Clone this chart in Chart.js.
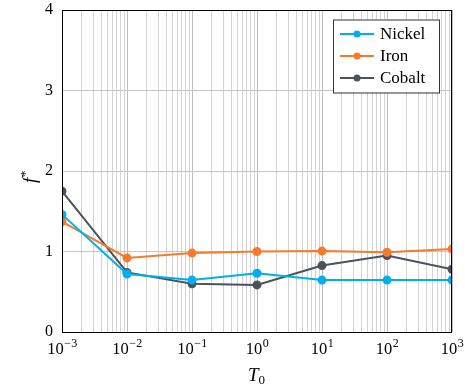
<!DOCTYPE html>
<html>
<head>
<meta charset="utf-8">
<script src="https://cdn.jsdelivr.net/npm/chart.js@4.4.1/dist/chart.umd.min.js"></script>
<style>
  html, body { margin: 0; padding: 0; background: #fff; }
  #wrap { width: 465px; height: 390px; }
</style>
</head>
<body>
<div id="wrap"><canvas id="fstarChart"></canvas></div>
<script>
// relaxation parameter T0 vs. f* for the three metals
var t0Values = [0.001, 0.01, 0.1, 1, 10, 100, 1000];
var nickelValues = [1.46, 0.72, 0.645, 0.73, 0.645, 0.645, 0.645];
var ironValues = [1.37, 0.92, 0.98, 1.0, 1.005, 0.99, 1.03];
var cobaltValues = [1.75, 0.74, 0.60, 0.585, 0.825, 0.95, 0.78];
var seriesNames = ['Nickel', 'Iron', 'Cobalt'];
var seriesColors = ['#00AEEF', '#F7792B', '#4B525C'];
var xExponents = [-3, -2, -1, 0, 1, 2, 3];
var yTicks = [0, 1, 2, 3, 4];

var SERIF = '"Liberation Serif", "DejaVu Serif", serif';

function toPoints(vals) {
  return vals.map(function (v, i) { return { x: t0Values[i], y: v }; });
}

function isDecade(v) {
  var l = Math.log10(v);
  return Math.abs(l - Math.round(l)) < 1e-9;
}

// frame, decade labels, axis titles and the boxed legend
var decorations = {
  id: 'decorations',
  afterDraw: function (chart) {
    var ctx = chart.ctx;
    var a = chart.chartArea;
    var xs = chart.scales.x;
    ctx.save();

    ctx.strokeStyle = '#000';
    ctx.lineWidth = 1;
    ctx.strokeRect(a.left + 0.5, a.top + 0.5, a.right - a.left - 1, a.bottom - a.top);

    ctx.fillStyle = '#000';
    ctx.textBaseline = 'alphabetic';
    xExponents.forEach(function (e) {
      var px = xs.getPixelForValue(Math.pow(10, e));
      var base = '10';
      var sup = e < 0 ? '\u2212' + (-e) : String(e);
      ctx.font = '16.5px ' + SERIF;
      var wb = ctx.measureText(base).width;
      ctx.font = '12px ' + SERIF;
      var ws = ctx.measureText(sup).width;
      var x0 = px - (wb + ws) / 2;
      ctx.font = '16.5px ' + SERIF;
      ctx.textAlign = 'left';
      ctx.fillText(base, x0, a.bottom + 22);
      ctx.font = '12px ' + SERIF;
      ctx.fillText(sup, x0 + wb + 0.5, a.bottom + 15);
    });

    // x title T0
    var cx = (a.left + a.right) / 2;
    ctx.font = 'italic 19px ' + SERIF;
    var wt = ctx.measureText('T').width;
    ctx.textAlign = 'left';
    ctx.fillText('T', cx - 9, a.bottom + 49);
    ctx.font = '13px ' + SERIF;
    ctx.fillText('0', cx - 9 + wt, a.bottom + 52);

    // y title f*
    ctx.save();
    ctx.translate(36, (a.top + a.bottom) / 2 + 5);
    ctx.rotate(-Math.PI / 2);
    ctx.font = 'italic 19px ' + SERIF;
    ctx.textAlign = 'left';
    ctx.fillText('f', -7, 0);
    var wf = ctx.measureText('f').width;
    ctx.font = '12px ' + SERIF;
    ctx.fillText('*', -7 + wf + 1, -7);
    ctx.restore();

    // legend box
    var lx = 333, ly = 19.5, lw = 106, lh = 73;
    ctx.fillStyle = '#fff';
    ctx.fillRect(lx, ly, lw, lh);
    ctx.strokeStyle = '#333';
    ctx.lineWidth = 1;
    ctx.strokeRect(lx + 0.5, ly + 0.5, lw, lh);
    chart.data.datasets.forEach(function (ds, i) {
      var ry = 34 + i * 22;
      ctx.strokeStyle = ds.borderColor;
      ctx.lineWidth = 2;
      ctx.beginPath();
      ctx.moveTo(340, ry);
      ctx.lineTo(374, ry);
      ctx.stroke();
      ctx.fillStyle = ds.borderColor;
      ctx.beginPath();
      ctx.arc(357, ry, 3.5, 0, Math.PI * 2);
      ctx.fill();
      ctx.fillStyle = '#000';
      ctx.font = '17px ' + SERIF;
      ctx.textAlign = 'left';
      ctx.textBaseline = 'middle';
      ctx.fillText(ds.label, 380, ry + 1);
    });
    ctx.restore();
  }
};

var ctx = document.getElementById('fstarChart');

var fstarChart = new Chart(ctx, {
  type: 'line',
  data: {
    datasets: [nickelValues, ironValues, cobaltValues].map(function (vals, i) {
      return {
        label: seriesNames[i],
        data: toPoints(vals),
        borderColor: seriesColors[i],
        backgroundColor: seriesColors[i],
        borderWidth: 2,
        pointRadius: 3.5,
        pointHoverRadius: 3.5,
        tension: 0
      };
    })
  },
  options: {
    responsive: true,
    maintainAspectRatio: false,
    animation: false,
    layout: { padding: { left: 0, right: 13, top: 10, bottom: 0 } },
    plugins: {
      legend: { display: false },
      tooltip: { enabled: false }
    },
    scales: {
      x: {
        type: 'logarithmic',
        min: 0.001,
        max: 1000,
        afterBuildTicks: function (scale) {
          var ticks = [];
          for (var e = -3; e < 3; e++) {
            for (var m = 1; m < 10; m++) {
              ticks.push({ value: m * Math.pow(10, e) });
            }
          }
          ticks.push({ value: 1000 });
          scale.ticks = ticks;
        },
        afterFit: function (scale) {
          scale.height = 58;
          scale.paddingLeft = 0;
          scale.paddingRight = 0;
        },
        ticks: { display: false, autoSkip: false },
        grid: {
          drawTicks: false,
          color: function (c) {
            return c.tick && isDecade(c.tick.value) ? '#bdbdbd' : '#d3d3d3';
          },
          lineWidth: 1
        },
        border: { display: false }
      },
      y: {
        min: 0,
        max: 4,
        afterBuildTicks: function (scale) {
          scale.ticks = yTicks.map(function (v) { return { value: v }; });
        },
        afterFit: function (scale) {
          scale.width = 62;
          scale.paddingTop = 0;
          scale.paddingBottom = 0;
        },
        ticks: {
          color: '#000',
          padding: 9,
          font: { family: SERIF, size: 16 }
        },
        grid: { drawTicks: false, color: '#c4c4c4' },
        border: { display: false }
      }
    }
  },
  plugins: [decorations]
});
</script>
</body>
</html>
